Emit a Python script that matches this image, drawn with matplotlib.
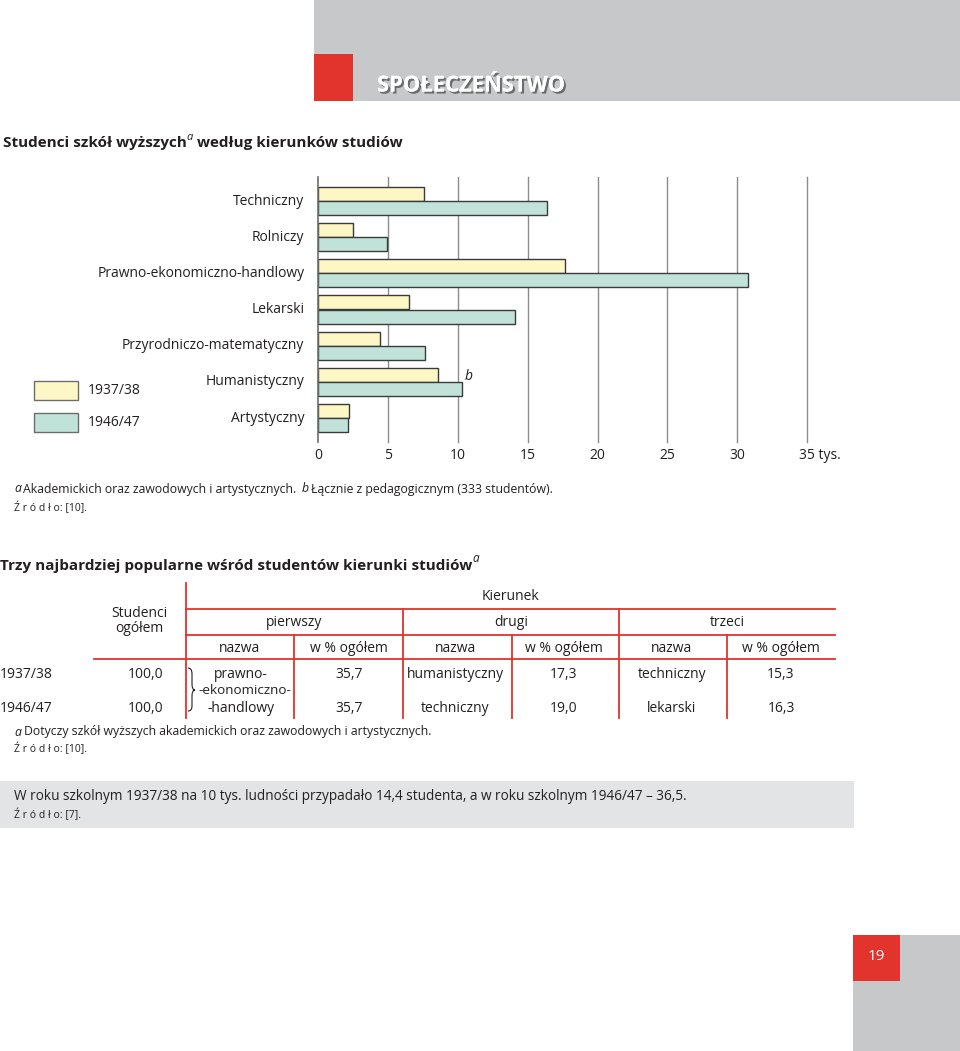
import matplotlib
matplotlib.use('Agg')
import matplotlib.pyplot as plt
import matplotlib.patheffects as pe
from matplotlib.patches import Rectangle, PathPatch
from matplotlib.path import Path

plt.rcParams['font.family'] = ['Open Sans', 'DejaVu Sans']

# data for the bar chart (thousands of students)
kierunki = ["Techniczny", "Rolniczy", "Prawno-ekonomiczno-handlowy", "Lekarski",
            "Przyrodniczo-matematyczny", "Humanistyczny", "Artystyczny"]
lata = ["1937/38", "1946/47"]
v1937 = [7.6, 2.45, 17.7, 6.5, 4.45, 8.55, 2.2]
v1946 = [16.35, 4.95, 30.8, 14.1, 7.65, 10.3, 2.1]
ticks = [0, 5, 10, 15, 20, 25, 30, 35]

# table data
naglowki_grup = ["pierwszy", "drugi", "trzeci"]
wiersze = ["1937/38", "1946/47"]
ogolem = ["100,0", "100,0"]
nazwy_1 = ["humanistyczny", "techniczny"]
proc_1 = ["35,7", "35,7"]
proc_2 = ["17,3", "19,0"]
nazwy_3 = ["techniczny", "lekarski"]
proc_3 = ["15,3", "16,3"]

W, H = 960, 1051
TXT = "#231f20"
RED = "#e2332c"
YEL = "#fdf6c5"
TEAL = "#c0e2d9"

fig = plt.figure(figsize=(9.6, 10.51), dpi=100)
bg = fig.add_axes([0, 0, 1, 1])
bg.set_xlim(0, W)
bg.set_ylim(H, 0)
bg.axis("off")

# header
bg.add_patch(Rectangle((314, 0), W - 314, 101, color="#c7c8ca", lw=0))
bg.add_patch(Rectangle((314, 54), 39, 47, color=RED, lw=0))
bg.text(377, 86, "SPOŁECZEŃSTWO", color="white", fontsize=15.8, fontweight="bold",
        va="center", ha="left",
        path_effects=[pe.withSimplePatchShadow(offset=(1.5, -1.5), shadow_rgbFace="#555555", alpha=0.8),
                      pe.Normal()])

# first title
bg.text(3, 143, "Studenci szkół wyższych", fontsize=11, fontweight="bold", color=TXT, va="center")
bg.text(186, 138, "a", fontsize=8, style="italic", color=TXT, va="center")
bg.text(197, 143, "według kierunków studiów", fontsize=11, fontweight="bold", color=TXT, va="center")

# bar chart axes: x 0 -> px 318.3, 35 -> px 807
x0, x35 = 318.3, 807.0
top, bot = 177, 442
ax = fig.add_axes([x0 / W, 1 - bot / H, (x35 - x0) / W, (bot - top) / H])
ax.set_xlim(0, 35)
n = len(kierunki)
ax.set_ylim(n - 1 + (bot - 418) / 36, -(201 - top) / 36)
pos = list(range(n))
h = 14 / 36
ax.barh([p - h / 2 for p in pos], v1937, height=h, color=YEL, edgecolor="#3a3a3a", lw=1, zorder=3)
ax.barh([p + h / 2 for p in pos], v1946, height=h, color=TEAL, edgecolor="#3a3a3a", lw=1, zorder=3)
for t in ticks[1:]:
    ax.axvline(t, color="#8c8c8c", lw=1, zorder=1, clip_on=False)
ax.axvline(0, color="#6d6d6d", lw=1.2, zorder=4, clip_on=False)
for s in ax.spines.values():
    s.set_visible(False)
ax.set_yticks([p - 0.05 for p in pos])
ax.set_yticklabels(kierunki, fontsize=10, color=TXT)
ax.tick_params(axis="y", length=0, pad=10)
ax.set_xticks(ticks)
ax.set_xticklabels([str(t) for t in ticks[:-1]] + [""], fontsize=10, color=TXT)
ax.tick_params(axis="x", length=0, pad=4)
ax.annotate("35 tys.", xy=(35, 0), xycoords=("data", "axes fraction"), xytext=(-5.5, -4),
            textcoords="offset points", ha="left", va="top", fontsize=10, color=TXT)
ax.text(v1946[5] + 0.2, pos[5] - 0.15, "b", style="italic", fontsize=10, color=TXT, ha="left", va="center")

# legend
for (y, col, lab) in [(381, YEL, lata[0]), (413, TEAL, lata[1])]:
    bg.add_patch(Rectangle((34, y), 44, 19, facecolor=col, edgecolor="#6d6d6d", lw=1))
    bg.text(88, y + 10, lab, fontsize=10, color=TXT, va="center")

# footnotes
bg.text(14, 489, "a", style="italic", fontsize=8.8, color=TXT, va="center")
bg.text(23, 489, "Akademickich oraz zawodowych i artystycznych.", fontsize=8.8, color=TXT, va="center")
bg.text(302, 489, "b", style="italic", fontsize=8.8, color=TXT, va="center")
bg.text(311, 489, "Łącznie z pedagogicznym (333 studentów).", fontsize=8.8, color=TXT, va="center")
bg.text(14, 508, "Ź r ó d ł o: [10].", fontsize=7.5, color=TXT, va="center")

# second title
bg.text(0, 566, "Trzy najbardziej popularne wśród studentów kierunki studiów", fontsize=11,
        fontweight="bold", color=TXT, va="center")
bg.text(472, 558, "a", fontsize=8.5, style="italic", color=TXT, va="center")

# table lines
lk = dict(color=RED, lw=1.3)
bg.plot([186, 186], [583, 718], **lk)
bg.plot([186, 835], [609, 609], **lk)
bg.plot([186, 835], [635, 635], **lk)
bg.plot([94, 835], [659, 659], **lk)
for x in [403, 619]:
    bg.plot([x, x], [609, 718], **lk)
for x in [294, 512, 727]:
    bg.plot([x, x], [635, 718], **lk)

fs = 10
bg.text(510, 596, "Kierunek", fontsize=fs, color=TXT, ha="center", va="center")
bg.text(139, 621, "Studenci\nogółem", fontsize=fs, color=TXT, ha="center", va="center", linespacing=1.0)
for x, lab in zip([294, 511, 727], naglowki_grup):
    bg.text(x, 622, lab, fontsize=fs, color=TXT, ha="center", va="center")
for x, lab in zip([240, 349, 455, 564, 672, 781], ["nazwa", "w % ogółem"] * 3):
    bg.text(x, 648, lab, fontsize=fs, color=TXT, ha="center", va="center")

for i, y in enumerate([674, 709]):
    bg.text(0, y, wiersze[i], fontsize=fs, color=TXT, va="center")
    bg.text(163, y, ogolem[i], fontsize=fs, color=TXT, va="center", ha="right")
    bg.text(349, y, proc_1[i], fontsize=fs, color=TXT, va="center", ha="center")
    bg.text(455, y, nazwy_1[i], fontsize=fs, color=TXT, va="center", ha="center")
    bg.text(564, y, proc_2[i], fontsize=fs, color=TXT, va="center", ha="center")
    bg.text(672, y, nazwy_3[i], fontsize=fs, color=TXT, va="center", ha="center")
    bg.text(781, y, proc_3[i], fontsize=fs, color=TXT, va="center", ha="center")
bg.text(241, 674, "prawno-", fontsize=fs, color=TXT, va="center", ha="center")
bg.text(245, 691, "-ekonomiczno-", fontsize=9.7, color=TXT, va="center", ha="center")
bg.text(241, 709, "-handlowy", fontsize=fs, color=TXT, va="center", ha="center")

# brace
verts = [(188, 668), (192, 668), (192, 674), (192, 684), (192, 690), (195, 690),
         (192, 690), (192, 696), (192, 706), (192, 711), (188, 711)]
codes = [Path.MOVETO, Path.CURVE3, Path.CURVE3, Path.LINETO, Path.CURVE3, Path.CURVE3,
         Path.CURVE3, Path.CURVE3, Path.LINETO, Path.CURVE3, Path.CURVE3]
bg.add_patch(PathPatch(Path(verts, codes), fill=False, edgecolor=TXT, lw=0.8))

bg.text(14, 732, "a", style="italic", fontsize=8.8, color=TXT, va="center")
bg.text(24, 732, "Dotyczy szkół wyższych akademickich oraz zawodowych i artystycznych.", fontsize=8.8,
        color=TXT, va="center")
bg.text(14, 749, "Ź r ó d ł o: [10].", fontsize=7.5, color=TXT, va="center")

# grey info box
bg.add_patch(Rectangle((0, 781), 854, 47, color="#e3e4e5", lw=0))
bg.text(14, 797, "W roku szkolnym 1937/38 na 10 tys. ludności przypadało 14,4 studenta, a w roku szkolnym 1946/47 – 36,5.",
        fontsize=9.8, color=TXT, va="center")
bg.text(14, 815, "Ź r ó d ł o: [7].", fontsize=7.5, color=TXT, va="center")

# page number
bg.add_patch(Rectangle((853, 935), W - 853, H - 935, color="#c7c8ca", lw=0))
bg.add_patch(Rectangle((853, 935), 47, 46, color=RED, lw=0))
bg.text(876, 956, "19", color="white", fontsize=11, ha="center", va="center")

fig.savefig("out.png", dpi=100)
